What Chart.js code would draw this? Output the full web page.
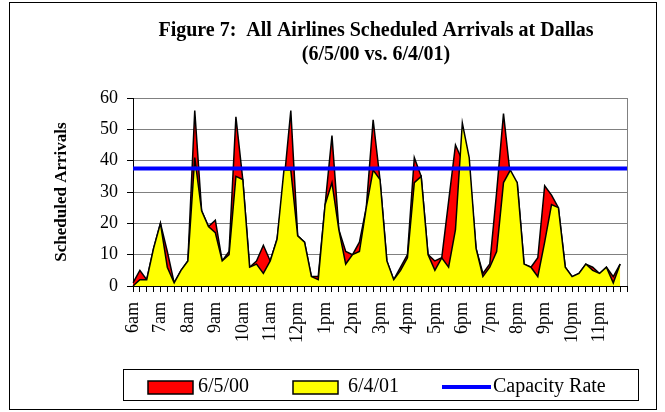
<!DOCTYPE html>
<html>
<head>
<meta charset="utf-8">
<script src="https://cdn.jsdelivr.net/npm/chart.js@4.4.0/dist/chart.umd.min.js"></script>
<style>
  html, body { margin: 0; padding: 0; background: #fff; }
  #wrap { width: 665px; height: 412px; position: relative; }
</style>
</head>
<body>
<div id="wrap"><canvas id="arrivalsChart"></canvas></div>
<script>

// -------------------------
//      CHART DATA
// -------------------------

// one label per hour, 4 slots (15 min) per hour, 6:00 to 23:45
const HOUR_LABELS = ["6am", "7am", "8am", "9am", "10am", "11am", "12pm", "1pm", "2pm",
    "3pm", "4pm", "5pm", "6pm", "7pm", "8pm", "9pm", "10pm", "11pm"];
const SLOTS_PER_HOUR = 4;

const ARRIVALS_2000 = [1, 5, 2, 12, 20, 11, 1, 5, 8, 56, 24, 19, 21, 8, 11, 54, 34, 6,
    8, 13, 8, 15, 33, 56, 16, 14, 3, 3, 26, 48, 18, 11, 10, 14, 25, 53, 34, 8,
    2, 6, 10, 41, 35, 10, 8, 9, 27, 45, 40, 38, 12, 4, 7, 30, 55, 35, 33, 7,
    6, 9, 32, 29, 25, 6, 3, 4, 7, 6, 4, 6, 3, 7];

const ARRIVALS_2001 = [0, 2, 2, 12, 20, 6, 1, 5, 8, 41, 24, 19, 17, 8, 10, 35, 34, 6,
    7, 4, 8, 15, 37, 37, 16, 14, 3, 2, 26, 33, 18, 7, 10, 11, 25, 37, 34, 8,
    2, 5, 9, 33, 35, 10, 5, 9, 6, 18, 52, 41, 12, 3, 6, 11, 33, 37, 33, 7,
    6, 3, 14, 26, 25, 6, 3, 4, 7, 5, 4, 6, 1, 7];

const CAPACITY_RATE = 37.5;

const SERIES_NAMES = ["6/5/00", "6/4/01", "Capacity Rate"];
const TITLE_LINES = ["Figure 7:  All Airlines Scheduled Arrivals at Dallas", "(6/5/00 vs. 6/4/01)"];
const Y_TITLE = "Scheduled Arrivals";

// -------------------------

// area points sit on the left edge of each slot, one empty slot at the end
const slotCount = HOUR_LABELS.length * SLOTS_PER_HOUR + 1;
const categories = [];
for (let i = 0; i < slotCount; i++) {
    categories.push(i % SLOTS_PER_HOUR === 0 ? (HOUR_LABELS[i / SLOTS_PER_HOUR] || "") : "");
}
const capacityLine = categories.map(() => CAPACITY_RATE);

const SERIF = "'Liberation Serif', 'Times New Roman', serif";

// frame, title and boxed legend like the Excel original
const decorations = {
    id: "decorations",
    beforeDatasetsDraw(chart) {
        const { ctx, chartArea: a } = chart;
        ctx.save();
        ctx.strokeStyle = "#808080";
        ctx.lineWidth = 1;
        ctx.beginPath();
        ctx.moveTo(Math.round(a.right) + 0.5, a.top);
        ctx.lineTo(Math.round(a.right) + 0.5, a.bottom);
        ctx.stroke();
        ctx.restore();
    },
    afterDraw(chart) {
        const { ctx, chartArea: a } = chart;
        const ds = chart.data.datasets;
        ctx.save();

        // outer frame
        ctx.strokeStyle = "#000";
        ctx.lineWidth = 1;
        ctx.strokeRect(9.5, 2.5, 647, 407);

        // title
        ctx.fillStyle = "#000";
        ctx.textAlign = "center";
        ctx.textBaseline = "middle";
        ctx.font = "bold 20px " + SERIF;
        const cx = (a.left + a.right) / 2 - 4;
        ctx.fillText(TITLE_LINES[0], cx, 31);
        ctx.fillText(TITLE_LINES[1], cx, 55);

        // legend box
        ctx.strokeStyle = "#000";
        ctx.lineWidth = 1;
        ctx.strokeRect(123.5, 369.5, 515, 31);
        ctx.font = "20px " + SERIF;
        ctx.textAlign = "left";
        const midY = 387;
        [[148, 198], [293, 348]].forEach(([x, tx], k) => {
            ctx.fillStyle = ds[k].backgroundColor;
            ctx.fillRect(x, midY - 6, 45, 13);
            ctx.lineWidth = 1.5;
            ctx.strokeStyle = "#000";
            ctx.strokeRect(x, midY - 6, 45, 13);
            ctx.fillStyle = "#000";
            ctx.fillText(ds[k].label, tx, midY);
        });
        ctx.strokeStyle = ds[2].borderColor;
        ctx.lineWidth = 4;
        ctx.beginPath();
        ctx.moveTo(442, midY);
        ctx.lineTo(491, midY);
        ctx.stroke();
        ctx.fillStyle = "#000";
        ctx.fillText(ds[2].label, 493, midY);

        ctx.restore();
    }
};

const ctx = document.getElementById("arrivalsChart").getContext("2d");

const chart = new Chart(ctx, {
    type: "line",
    data: {
        labels: categories,
        datasets: [
            {
                label: SERIES_NAMES[0],
                data: ARRIVALS_2000,
                backgroundColor: "#FF0000",
                borderColor: "#000",
                borderWidth: 1.5,
                fill: "origin",
                pointRadius: 0,
                tension: 0,
                order: 2
            },
            {
                label: SERIES_NAMES[1],
                data: ARRIVALS_2001,
                backgroundColor: "#FFFF00",
                borderColor: "#000",
                borderWidth: 1.5,
                fill: "origin",
                pointRadius: 0,
                tension: 0,
                order: 1
            },
            {
                label: SERIES_NAMES[2],
                data: capacityLine,
                borderColor: "#0000FF",
                backgroundColor: "#0000FF",
                borderWidth: 4,
                fill: false,
                pointRadius: 0,
                order: 0
            }
        ]
    },
    options: {
        responsive: true,
        maintainAspectRatio: false,
        animation: false,
        layout: { padding: { left: 0, top: 98, right: 38, bottom: 0 } },
        plugins: {
            legend: { display: false },
            title: { display: false },
            tooltip: { enabled: false }
        },
        scales: {
            x: {
                type: "category",
                offset: false,
                grid: { display: true, drawOnChartArea: false, drawTicks: true, tickLength: 6, color: "#000" },
                border: { color: "#000", width: 1 },
                ticks: {
                    autoSkip: false,
                    minRotation: 90,
                    maxRotation: 90,
                    padding: 10,
                    color: "#000",
                    font: { family: SERIF, size: 18 }
                },
                afterFit: s => { s.height = 126; }
            },
            y: {
                min: 0,
                max: 60,
                ticks: { stepSize: 10, padding: 9, color: "#000", font: { family: SERIF, size: 18 } },
                grid: { color: "#808080", tickColor: "#000", tickLength: 6, lineWidth: 1 },
                border: { color: "#000", width: 1 },
                title: {
                    display: true,
                    text: Y_TITLE,
                    color: "#000",
                    font: { family: SERIF, size: 17, weight: "bold" },
                    padding: { top: 51, bottom: 0 }
                },
                afterFit: s => { s.width = 133; }
            }
        }
    },
    plugins: [decorations]
});
</script>
</body>
</html>
